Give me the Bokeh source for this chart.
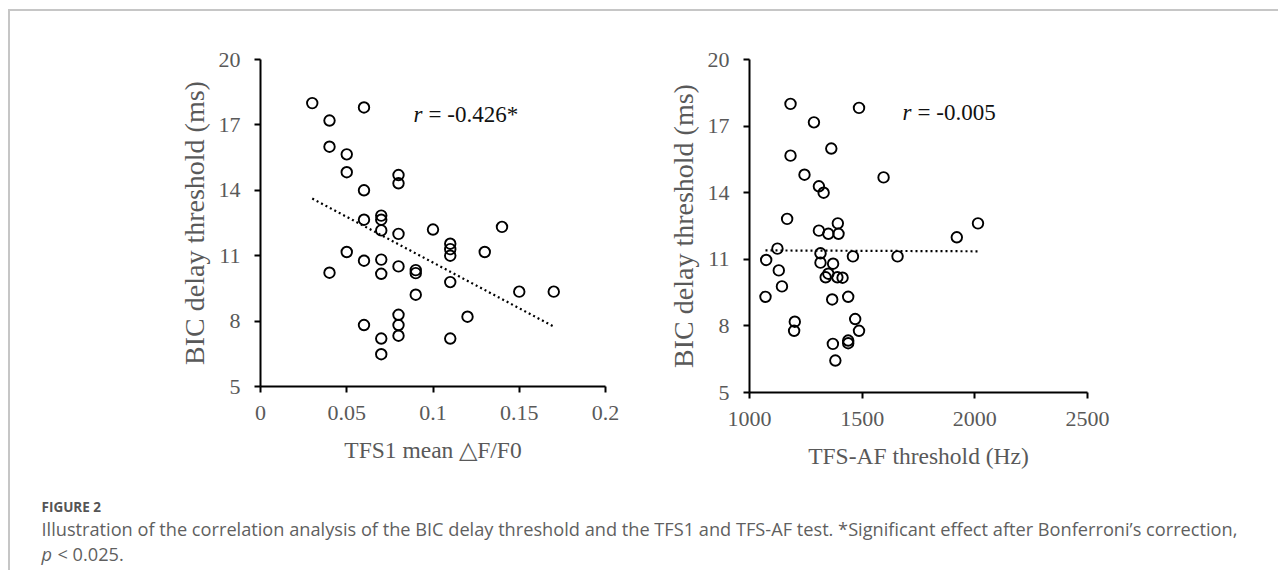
from bokeh.plotting import figure
from bokeh.models import Range1d, FixedTicker, Label, ColumnDataSource
from bokeh.layouts import row, column
from bokeh.embed import file_html
from bokeh.resources import INLINE

# ---------------- data ----------------
tfs1_x = [0.03, 0.04, 0.06, 0.04, 0.05, 0.05, 0.08, 0.08, 0.06, 0.07,
          0.07, 0.06, 0.07, 0.08, 0.10, 0.14, 0.11, 0.11, 0.11, 0.05,
          0.13, 0.06, 0.07, 0.04, 0.07, 0.08, 0.09, 0.09, 0.11, 0.09,
          0.15, 0.17, 0.08, 0.08, 0.06, 0.12, 0.08, 0.07, 0.11, 0.07]
tfs1_y = [18.0, 17.2, 17.8, 16.0, 15.65, 14.83, 14.7, 14.32, 14.0, 12.84,
          12.65, 12.65, 12.16, 12.0, 12.2, 12.32, 11.55, 11.3, 11.0, 11.17,
          11.17, 10.77, 10.82, 10.22, 10.17, 10.51, 10.34, 10.2, 9.79, 9.21,
          9.35, 9.35, 8.29, 7.82, 7.82, 8.2, 7.33, 7.2, 7.2, 6.48]

tfsaf_x = [1182, 1486, 1286, 1363, 1182, 1244, 1595, 1308, 1329, 1167,
           1392, 2014, 1308, 1350, 1395, 1920, 1124, 1315, 1459, 1657,
           1074, 1315, 1371, 1130, 1350, 1338, 1390, 1413, 1144, 1071,
           1438, 1367, 1201, 1469, 1198, 1486, 1370, 1438, 1438, 1381]
tfsaf_y = [18.0, 17.82, 17.17, 15.99, 15.67, 14.81, 14.69, 14.29, 14.0, 12.82,
           12.62, 12.62, 12.29, 12.15, 12.15, 11.99, 11.48, 11.27, 11.13, 11.13,
           10.97, 10.85, 10.8, 10.5, 10.35, 10.19, 10.19, 10.17, 9.78, 9.31,
           9.31, 9.19, 8.19, 8.31, 7.78, 7.78, 7.19, 7.34, 7.22, 6.44]

trend1_x = [0.03, 0.17]
trend1_y = [13.62, 7.75]
trend2_x = [1071, 2019]
trend2_y = [11.40, 11.36]

y_ticks = [5, 8, 11, 14, 17, 20]
x1_ticks = [0, 0.05, 0.1, 0.15, 0.2]
x1_tick_labels = ["0", "0.05", "0.1", "0.15", "0.2"]
x2_ticks = [1000, 1500, 2000, 2500]
x2_tick_labels = ["1000", "1500", "2000", "2500"]

y_title = "BIC delay threshold (ms)"
x1_title = "TFS1 mean \u25b3F/F0"
x2_title = "TFS-AF threshold (Hz)"
r1_text = "= -0.426*"
r2_text = "= -0.005"
fig_label = "FIGURE 2"
caption_1 = ("Illustration of the correlation analysis of the BIC delay threshold and the "
             "TFS1 and TFS-AF test. *Significant effect after Bonferroni\u2019s correction,")
caption_2 = "< 0.025."

SERIF = "Liberation Serif"
SANS = "Open Sans"
GREY = "#595959"


def make_panel(xs, ys, tx, ty, x_range, ticks, tick_labels, xtitle,
               mb_left, mb_top, mb_right, mb_bottom, fw, fh, r_x, r_y, r_text):
    p = figure(frame_width=fw, frame_height=fh,
               min_border_left=mb_left, min_border_top=mb_top,
               min_border_right=mb_right, min_border_bottom=mb_bottom,
               x_range=Range1d(*x_range), y_range=Range1d(5, 20),
               toolbar_location=None, output_backend="svg",
               background_fill_color="white", border_fill_color="white")
    p.outline_line_color = None
    p.grid.visible = False

    src = ColumnDataSource(dict(x=xs, y=ys))
    p.line(tx, ty, line_color="black", line_width=2.2, line_dash="2 3")
    p.scatter("x", "y", source=src, marker="circle", size=10.5,
              fill_color=None, line_color="black", line_width=1.9)

    for ax in (p.xaxis[0], p.yaxis[0]):
        ax.axis_line_width = 2
        ax.axis_line_color = "black"
        ax.major_tick_line_width = 2
        ax.major_tick_line_color = "black"
        ax.major_tick_out = 6
        ax.major_tick_in = 0
        ax.minor_tick_line_color = None
        ax.major_label_text_font = SERIF
        ax.major_label_text_font_size = "22px"
        ax.major_label_text_color = GREY
        ax.axis_label_text_font = SERIF
        ax.axis_label_text_font_style = "normal"
        ax.axis_label_text_color = GREY

    p.xaxis.ticker = FixedTicker(ticks=ticks)
    p.xaxis.major_label_overrides = {t: l for t, l in zip(ticks, tick_labels)}
    p.xaxis.axis_label = xtitle
    p.xaxis.axis_label_text_font_size = "23.5px"
    p.xaxis.major_label_standoff = 13
    p.xaxis.axis_label_standoff = 14

    p.yaxis.ticker = FixedTicker(ticks=y_ticks)
    p.yaxis.axis_label = y_title
    p.yaxis.axis_label_text_font_size = "28px"
    p.yaxis.major_label_standoff = 14
    p.yaxis.axis_label_standoff = 6

    p.add_layout(Label(x=r_x, y=r_y, text="r", text_font=SERIF,
                       text_font_style="italic", text_font_size="23px",
                       text_color="#111111", text_baseline="alphabetic"))
    p.add_layout(Label(x=r_x, y=r_y, x_offset=15, text=r_text, text_font=SERIF,
                       text_font_size="23px", text_color="#111111",
                       text_baseline="alphabetic"))
    return p


p1 = make_panel(tfs1_x, tfs1_y, trend1_x, trend1_y, (0, 0.2), x1_ticks, x1_tick_labels,
                x1_title, 250, 48, 35, 94, 345, 327, 0.0887, 17.48, r1_text)
p2 = make_panel(tfsaf_x, tfsaf_y, trend2_x, trend2_y, (1000, 2500), x2_ticks, x2_tick_labels,
                x2_title, 109, 47, 191, 89, 338, 333, 1679, 17.62, r2_text)

CAP_W, CAP_H = 1268, 90
cap = figure(width=CAP_W, height=CAP_H, x_range=Range1d(0, CAP_W), y_range=Range1d(0, CAP_H),
             min_border=0, x_axis_type=None, y_axis_type=None,
             toolbar_location=None, output_backend="svg")
cap.outline_line_color = None
cap.grid.visible = False
CAP_COL = "#5f5f5f"
cap.add_layout(Label(x=31, y=CAP_H - 26, text=fig_label, text_font=SANS,
                     text_font_style="bold", text_font_size="13.5px", text_color="#555555",
                     text_baseline="alphabetic"))
cap.add_layout(Label(x=31, y=CAP_H - 48, text=caption_1, text_font=SANS,
                     text_font_size="18.2px", text_color=CAP_COL, text_baseline="alphabetic"))
cap.add_layout(Label(x=31, y=CAP_H - 73, text="p", text_font=SANS, text_font_style="italic",
                     text_font_size="18.2px", text_color=CAP_COL, text_baseline="alphabetic"))
cap.add_layout(Label(x=31, y=CAP_H - 73, x_offset=16, text=caption_2, text_font=SANS,
                     text_font_size="18.2px", text_color=CAP_COL, text_baseline="alphabetic"))

layout = column(row(p1, p2), cap, margin=(9, 0, 0, 8),
                styles={"border-top": "2px solid #c6c6c6", "border-left": "2px solid #c6c6c6"})

open("out.html", "w").write(file_html(layout, INLINE))
